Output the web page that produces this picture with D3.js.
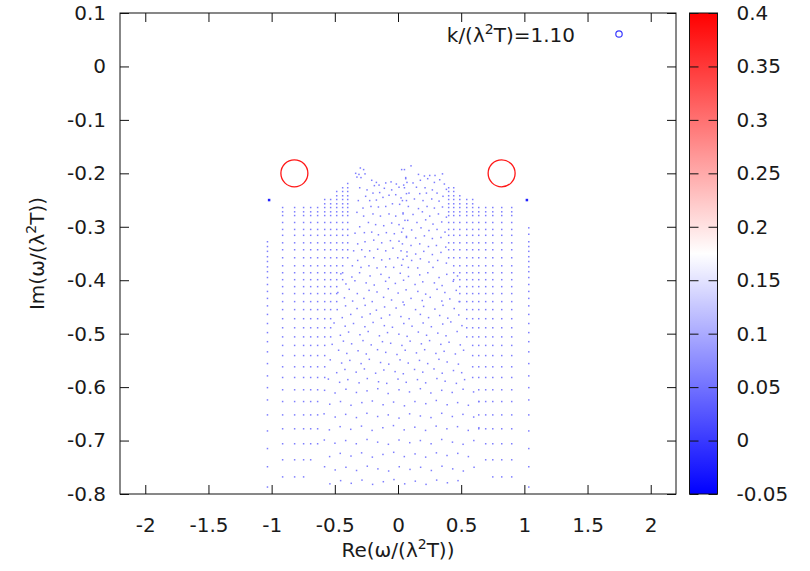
<!DOCTYPE html>
<html>
<head>
<meta charset="utf-8">
<script src="https://cdn.jsdelivr.net/npm/d3@7"></script>
<style>
  body { margin: 0; background: #fff; }
  text { font-family: "DejaVu Sans", sans-serif; fill: #1a1a1a; }
</style>
</head>
<body>
<svg id="chart" width="810" height="571"></svg>
<script>
// axis ticks
const xTicks = [-2, -1.5, -1, -0.5, 0, 0.5, 1, 1.5, 2];
const xTickLabels = ["-2", "-1.5", "-1", "-0.5", "0", "0.5", "1", "1.5", "2"];
const yTicks = [0.1, 0, -0.1, -0.2, -0.3, -0.4, -0.5, -0.6, -0.7, -0.8];
const yTickLabels = ["0.1", "0", "-0.1", "-0.2", "-0.3", "-0.4", "-0.5", "-0.6", "-0.7", "-0.8"];
const cbTicks = [-0.05, 0, 0.05, 0.1, 0.15, 0.2, 0.25, 0.3, 0.35, 0.4];
const cbTickLabels = ["-0.05", "0", "0.05", "0.1", "0.15", "0.2", "0.25", "0.3", "0.35", "0.4"];

// two unstable-looking modes (big red circles)
const modeRe = [-0.82, 0.82];
const modeIm = [-0.2, -0.2];
const modeVal = [0.38, 0.38];

// isolated darker dots
const isoRe = [-1.02, 1.02];
const isoIm = [-0.25, -0.25];

// outermost columns
const edgeRe = [-1.033, 1.035];
const edgeImLeft = [-0.328, -0.337, -0.346, -0.356, -0.365, -0.375, -0.384, -0.395, -0.408, -0.421, -0.434, -0.448,
  -0.464, -0.481, -0.498, -0.515, -0.534, -0.556, -0.579, -0.601, -0.624, -0.652, -0.682, -0.715, -0.749, -0.787];
const edgeImRight = [-0.302, -0.314, -0.328, -0.337, -0.346, -0.356, -0.365, -0.375, -0.384, -0.395, -0.408, -0.421,
  -0.434, -0.448, -0.464, -0.481, -0.498, -0.515, -0.534, -0.556, -0.579, -0.601, -0.624, -0.652, -0.682, -0.715, -0.749, -0.787];

// regular side columns: x position, first and last row
const colRe = [-0.913, -0.818, -0.747, -0.691, -0.636, -0.580, -0.533, -0.485, -0.438, -0.398,
  0.401, 0.441, 0.489, 0.544, 0.591, 0.639, 0.694, 0.750, 0.821, 0.900];
const colTop = [-0.264, -0.264, -0.264, -0.264, -0.264, -0.249, -0.249, -0.234, -0.227, -0.219,
  -0.227, -0.227, -0.242, -0.249, -0.249, -0.264, -0.264, -0.264, -0.264, -0.264];
const colBottom = [-0.768, -0.768, -0.768, -0.736, -0.706, -0.582, -0.506, -0.440, -0.399, -0.358,
  -0.358, -0.399, -0.440, -0.506, -0.582, -0.678, -0.736, -0.768, -0.768, -0.768];
const rowIm = [-0.219, -0.227, -0.234, -0.242, -0.249, -0.257, -0.264, -0.272, -0.279, -0.292, -0.305, -0.316,
  -0.330, -0.343, -0.358, -0.373, -0.386, -0.399, -0.412, -0.425, -0.440, -0.455, -0.472, -0.489, -0.506,
  -0.522, -0.541, -0.562, -0.582, -0.605, -0.627, -0.652, -0.678, -0.706, -0.736, -0.768];

// scattered central cloud [Re, Im]
const cloudTop = [
  [-0.298,-0.190],[-0.272,-0.193],[-0.335,-0.200],[-0.309,-0.202],[-0.261,-0.201],[-0.325,-0.207],[-0.293,-0.208],
  [-0.208,-0.213],[-0.171,-0.217],[-0.150,-0.222],[-0.187,-0.223],[-0.097,-0.218],[-0.055,-0.216],[-0.013,-0.220],
  [0.029,-0.193],[0.061,-0.208],[0.071,-0.217],[0.045,-0.222],[0.008,-0.226],[-0.108,-0.228],[-0.050,-0.231],
  [-0.303,-0.227],[-0.245,-0.231],[-0.198,-0.237],[-0.145,-0.236],[-0.256,-0.243],[-0.314,-0.251],[-0.224,-0.251],
  [-0.171,-0.250],[-0.119,-0.245],[-0.071,-0.241],[-0.018,-0.240],[0.024,-0.246],[0.067,-0.238],[0.067,-0.251],
  [0.013,-0.258],[-0.044,-0.257],[-0.097,-0.262],[-0.155,-0.263],[-0.214,-0.262],[-0.277,-0.265],[-0.325,-0.273],
  [-0.272,-0.280],[-0.198,-0.276],[-0.139,-0.280],[-0.071,-0.276],[-0.018,-0.280],[0.040,-0.274],[0.055,-0.288],
  [0.008,-0.296],[-0.050,-0.293],[-0.113,-0.298],[-0.177,-0.296],[-0.234,-0.292],[-0.303,-0.300],[-0.340,-0.312],
  [-0.266,-0.311],[-0.208,-0.310],[-0.155,-0.315],[-0.092,-0.311],[-0.029,-0.313],[0.029,-0.310],[0.067,-0.320],
  [0.008,-0.327],[-0.060,-0.326],[-0.129,-0.330],[-0.192,-0.325],[-0.261,-0.328],[-0.319,-0.332],[-0.351,-0.345],
  [-0.287,-0.343],[-0.224,-0.345],[-0.161,-0.342],[-0.097,-0.345],[-0.040,-0.340],[0.024,-0.345],[0.071,-0.355],
  [-0.002,-0.358],[-0.066,-0.360],[-0.129,-0.362],[-0.192,-0.358],[-0.261,-0.356],[-0.319,-0.363],[-0.361,-0.373],
  [-0.293,-0.376],[-0.230,-0.373],[-0.166,-0.377],[-0.097,-0.375],[-0.034,-0.376],[0.029,-0.372],
  [0.103,-0.186],[0.051,-0.193],[0.162,-0.202],[0.209,-0.205],[0.251,-0.204],[0.293,-0.204],[0.352,-0.201],
  [0.061,-0.210],[0.119,-0.218],[0.177,-0.213],[0.235,-0.210],[0.288,-0.217],[0.330,-0.212],[0.367,-0.220],
  [0.051,-0.227],[0.146,-0.226],[0.214,-0.227],[0.272,-0.231],[0.383,-0.230],[0.087,-0.237],[0.172,-0.238],
  [0.225,-0.237],[0.309,-0.237],[0.356,-0.243],[0.035,-0.251],[0.130,-0.248],[0.198,-0.251],[0.267,-0.248],
  [0.325,-0.252],[0.082,-0.262],[0.162,-0.266],[0.230,-0.262],[0.288,-0.265],[0.352,-0.263],[0.040,-0.276],
  [0.119,-0.277],[0.193,-0.272],[0.251,-0.280],[0.320,-0.276],[0.383,-0.282],[0.077,-0.288],[0.150,-0.292],
  [0.219,-0.287],[0.277,-0.295],[0.346,-0.291],[0.040,-0.303],[0.108,-0.306],[0.182,-0.302],[0.245,-0.307],
  [0.309,-0.305],[0.372,-0.310],[0.067,-0.318],[0.140,-0.321],[0.209,-0.317],[0.272,-0.322],[0.340,-0.320],
  [0.035,-0.332],[0.103,-0.335],[0.172,-0.332],[0.241,-0.337],[0.304,-0.335],[0.378,-0.338],[0.071,-0.347],
  [0.140,-0.351],[0.204,-0.346],[0.272,-0.352],[0.340,-0.348],[0.040,-0.361],[0.108,-0.363],[0.177,-0.360],
  [0.245,-0.366],[0.314,-0.363],[0.383,-0.368],[0.082,-0.376],[0.156,-0.377],[0.277,-0.376]
];
const cloudMid = [
  [-0.452,-0.388],[-0.365,-0.394],[-0.304,-0.386],[-0.221,-0.392],[-0.135,-0.389],[-0.070,-0.395],[0.018,-0.387],
  [0.083,-0.393],[0.172,-0.390],[0.236,-0.386],[0.325,-0.395],[0.386,-0.389],[0.471,-0.392],
  [-0.412,-0.407],[-0.341,-0.401],[-0.252,-0.405],[-0.188,-0.409],[-0.098,-0.402],[-0.021,-0.406],[0.044,-0.400],
  [0.135,-0.408],[0.196,-0.403],[0.288,-0.405],[0.349,-0.410],[0.437,-0.402],
  [-0.476,-0.423],[-0.386,-0.417],[-0.322,-0.425],[-0.229,-0.419],[-0.166,-0.422],[-0.077,-0.416],[0.001,-0.424],
  [0.064,-0.418],[0.157,-0.421],[0.219,-0.426],[0.309,-0.417],[0.371,-0.423],[0.461,-0.419],
  [-0.424,-0.433],[-0.359,-0.439],[-0.270,-0.434],[-0.204,-0.440],[-0.114,-0.432],[-0.051,-0.437],[0.040,-0.441],
  [0.103,-0.434],[0.192,-0.438],[0.255,-0.432],[0.347,-0.439],[0.410,-0.435],[0.484,-0.440],
  [-0.481,-0.455],[-0.415,-0.448],[-0.324,-0.453],[-0.260,-0.447],[-0.171,-0.456],[-0.106,-0.450],[-0.015,-0.452],
  [0.049,-0.446],[0.139,-0.455],[0.203,-0.449],[0.292,-0.454],[0.356,-0.447],[0.445,-0.453],
  [-0.441,-0.470],[-0.374,-0.464],[-0.285,-0.469],[-0.220,-0.463],[-0.132,-0.471],[-0.066,-0.465],[0.023,-0.468],
  [0.088,-0.472],[0.177,-0.464],[0.242,-0.470],[0.330,-0.466],[0.394,-0.471],[0.481,-0.465],
  [-0.506,-0.480],[-0.418,-0.486],[-0.352,-0.481],[-0.262,-0.487],[-0.197,-0.479],[-0.108,-0.485],[-0.044,-0.488],
  [0.046,-0.481],[0.111,-0.486],[0.199,-0.480],[0.264,-0.487],[0.354,-0.482],[0.418,-0.478],[0.506,-0.485],
  [-0.456,-0.503],[-0.391,-0.497],[-0.301,-0.502],[-0.236,-0.496],[-0.147,-0.504],[-0.083,-0.498],[0.007,-0.501],
  [0.072,-0.505],[0.161,-0.497],[0.226,-0.503],[0.315,-0.499],[0.380,-0.504],[0.468,-0.496],
  [-0.521,-0.520],[-0.432,-0.514],[-0.367,-0.519],[-0.277,-0.513],[-0.212,-0.521],[-0.123,-0.515],[-0.058,-0.518],
  [0.031,-0.522],[0.096,-0.514],[0.185,-0.519],[0.250,-0.513],[0.339,-0.520],[0.404,-0.516],[0.493,-0.521],
  [-0.470,-0.531],[-0.405,-0.537],[-0.316,-0.532],[-0.251,-0.538],[-0.162,-0.530],[-0.097,-0.535],[-0.008,-0.539],
  [0.057,-0.531],[0.146,-0.536],[0.211,-0.530],[0.300,-0.537],[0.365,-0.533],[0.454,-0.538],[0.519,-0.531],
  [-0.536,-0.549],[-0.446,-0.555],[-0.381,-0.550],[-0.292,-0.556],[-0.227,-0.548],[-0.138,-0.554],[-0.073,-0.557],
  [0.016,-0.549],[0.081,-0.555],[0.170,-0.550],[0.235,-0.556],[0.324,-0.548],[0.389,-0.553],[0.478,-0.557],
  [-0.485,-0.573],[-0.420,-0.567],[-0.331,-0.572],[-0.266,-0.566],[-0.177,-0.574],[-0.112,-0.568],[-0.023,-0.571],
  [0.042,-0.575],[0.131,-0.567],[0.196,-0.572],[0.285,-0.566],[0.350,-0.574],[0.439,-0.569],[0.504,-0.573],
  [-0.551,-0.585],[-0.462,-0.591],[-0.397,-0.586],[-0.308,-0.592],[-0.243,-0.584],[-0.154,-0.590],[-0.089,-0.593],
  [0.000,-0.585],[0.065,-0.591],[0.154,-0.586],[0.219,-0.592],[0.308,-0.584],[0.373,-0.589],[0.462,-0.593],[0.527,-0.586]
];
const cloudLow = [
  [-0.581,-0.606],[-0.498,-0.611],[-0.412,-0.604],[-0.329,-0.610],[-0.245,-0.607],[-0.160,-0.603],[-0.078,-0.612],
  [0.008,-0.605],[0.091,-0.609],[0.177,-0.603],[0.260,-0.611],[0.346,-0.606],[0.429,-0.610],[0.515,-0.604],[0.598,-0.609],
  [-0.540,-0.632],[-0.455,-0.627],[-0.372,-0.634],[-0.286,-0.629],[-0.203,-0.626],[-0.118,-0.633],[-0.035,-0.628],
  [0.051,-0.635],[0.134,-0.627],[0.220,-0.631],[0.303,-0.625],[0.389,-0.633],[0.472,-0.629],[0.557,-0.634],[0.640,-0.627],
  [-0.585,-0.650],[-0.497,-0.656],[-0.414,-0.651],[-0.329,-0.657],[-0.246,-0.649],[-0.161,-0.655],[-0.077,-0.652],
  [0.008,-0.658],[0.092,-0.650],[0.177,-0.654],[0.261,-0.657],[0.346,-0.649],[0.430,-0.655],[0.514,-0.651],[0.599,-0.656],
  [-0.543,-0.680],[-0.458,-0.674],[-0.374,-0.679],[-0.289,-0.673],[-0.205,-0.681],[-0.120,-0.676],[-0.036,-0.672],
  [0.049,-0.680],[0.133,-0.675],[0.218,-0.681],[0.302,-0.673],[0.387,-0.678],[0.471,-0.674],[0.556,-0.681],[0.640,-0.676],
  [-0.583,-0.699],[-0.499,-0.705],[-0.414,-0.700],[-0.330,-0.706],[-0.245,-0.698],[-0.161,-0.703],[-0.076,-0.707],
  [0.008,-0.699],[0.093,-0.704],[0.177,-0.700],[0.262,-0.706],[0.346,-0.698],[0.431,-0.703],[0.515,-0.707],[0.600,-0.700],
  [-0.541,-0.730],[-0.457,-0.724],[-0.372,-0.729],[-0.288,-0.723],[-0.203,-0.731],[-0.119,-0.726],[-0.034,-0.722],
  [0.050,-0.730],[0.135,-0.725],[0.219,-0.731],[0.304,-0.723],[0.388,-0.728],[0.473,-0.724],[0.557,-0.730],
  [-0.581,-0.749],[-0.497,-0.755],[-0.412,-0.750],[-0.328,-0.756],[-0.243,-0.748],[-0.159,-0.753],[-0.074,-0.757],
  [0.010,-0.749],[0.095,-0.754],[0.179,-0.750],[0.264,-0.756],[0.348,-0.748],[0.433,-0.753],[0.517,-0.757],[0.602,-0.750],
  [-0.539,-0.781],[-0.454,-0.775],[-0.370,-0.780],[-0.285,-0.774],[-0.201,-0.782],[-0.116,-0.777],[-0.032,-0.773],
  [0.053,-0.781],[0.137,-0.776],[0.222,-0.782],[0.306,-0.774],[0.391,-0.779],[0.475,-0.775]
];
const dotVal = 0.06;
const keyVal = 0.0;
const keyLabel = ["k/(λ", "2", "T)=1.10"];

// ---- layout
const svg = d3.select("#chart");
const plotL = 120, plotR = 676, plotT = 13, plotB = 494;
const x = d3.scaleLinear().domain([-2.2, 2.2]).range([plotL, plotR]);
const y = d3.scaleLinear().domain([-0.8, 0.1]).range([plotB, plotT]);
const cb = d3.scaleLinear().domain([-0.05, 0.4]).range([plotB, plotT]);
const color = d3.scaleLinear().domain([-0.05, 0.175, 0.4]).range(["#0000ff", "#ffffff", "#ff0000"]);

// gather all small dots
let dots = [];
edgeImLeft.forEach(v => dots.push([edgeRe[0], v]));
edgeImRight.forEach(v => dots.push([edgeRe[1], v]));
colRe.forEach((re, i) => {
  rowIm.filter(v => v <= colTop[i] + 1e-9 && v >= colBottom[i] - 1e-9).forEach(v => dots.push([re, v]));
});
dots = dots.concat(cloudTop, cloudMid, cloudLow);

const plot = svg.append("g");
plot.selectAll("rect.dot")
  .data(dots)
  .enter()
  .append("rect")
  .attr("class", "dot")
  .attr("x", d => x(d[0]) - 0.75)
  .attr("y", d => y(d[1]) - 0.75)
  .attr("width", 1.5)
  .attr("height", 1.5)
  .attr("fill", color(dotVal));

plot.selectAll("rect.iso")
  .data(isoRe)
  .enter()
  .append("rect")
  .attr("x", (d, i) => x(d) - 1.25)
  .attr("y", (d, i) => y(isoIm[i]) - 1.25)
  .attr("width", 2.5)
  .attr("height", 2.5)
  .attr("fill", color(-0.02));

plot.selectAll("circle.mode")
  .data(modeRe)
  .enter()
  .append("circle")
  .attr("cx", d => x(d))
  .attr("cy", (d, i) => y(modeIm[i]))
  .attr("r", 13.5)
  .attr("fill", "none")
  .attr("stroke", (d, i) => color(modeVal[i]))
  .attr("stroke-width", 1.3);

// ---- axes (gnuplot style: inward ticks, mirrored)
const fs = 20;
const ax = svg.append("g").attr("transform", `translate(0,${plotB})`)
  .call(d3.axisBottom(x).tickValues(xTicks).tickFormat((d, i) => xTickLabels[i]).tickSize(-9).tickPadding(24));
const axTop = svg.append("g").attr("transform", `translate(0,${plotT})`)
  .call(d3.axisTop(x).tickValues(xTicks).tickFormat("").tickSize(-9));
const ay = svg.append("g").attr("transform", `translate(${plotL},0)`)
  .call(d3.axisLeft(y).tickValues(yTicks).tickFormat((d, i) => yTickLabels[i]).tickSize(-9).tickPadding(14));
const ayR = svg.append("g").attr("transform", `translate(${plotR},0)`)
  .call(d3.axisRight(y).tickValues(yTicks).tickFormat("").tickSize(-9));
[ax, axTop, ay, ayR].forEach(g => {
  g.select(".domain").remove();
  g.selectAll("line").attr("stroke", "#111");
  g.selectAll("text").style("font-size", fs + "px").attr("fill", "#1a1a1a")
    .style("font-family", "'DejaVu Sans', sans-serif");
});

svg.append("rect")
  .attr("x", plotL).attr("y", plotT)
  .attr("width", plotR - plotL).attr("height", plotB - plotT)
  .attr("fill", "none").attr("stroke", "#111").attr("stroke-width", 1);

// axis titles
const xt = svg.append("text")
  .attr("x", (plotL + plotR) / 2).attr("y", 557)
  .attr("text-anchor", "middle").style("font-size", fs + "px");
xt.append("tspan").text("Re(ω/(λ");
xt.append("tspan").attr("dy", -8).style("font-size", "14px").text("2");
xt.append("tspan").attr("dy", 8).text("T))");

const yt = svg.append("text")
  .attr("transform", `translate(44,${(plotT + plotB) / 2}) rotate(-90)`)
  .attr("text-anchor", "middle").style("font-size", fs + "px");
yt.append("tspan").text("Im(ω/(λ");
yt.append("tspan").attr("dy", -8).style("font-size", "14px").text("2");
yt.append("tspan").attr("dy", 8).text("T))");

// key
const kt = svg.append("text")
  .attr("x", 575).attr("y", 42)
  .attr("text-anchor", "end").style("font-size", fs + "px");
kt.append("tspan").text(keyLabel[0]);
kt.append("tspan").attr("dy", -8).style("font-size", "14px").text(keyLabel[1]);
kt.append("tspan").attr("dy", 8).text(keyLabel[2]);
svg.append("circle")
  .attr("cx", 619).attr("cy", 34).attr("r", 3.2)
  .attr("fill", "none").attr("stroke", color(keyVal)).attr("stroke-width", 1.2);

// ---- colour box
const cbLeft = 689.5, cbRight = 717.5;
const defs = svg.append("defs");
const grad = defs.append("linearGradient").attr("id", "cbgrad")
  .attr("x1", 0).attr("y1", 1).attr("x2", 0).attr("y2", 0);
d3.range(0, 1.0001, 0.05).forEach(t => {
  grad.append("stop").attr("offset", t).attr("stop-color", color(-0.05 + t * 0.45));
});
svg.append("rect")
  .attr("x", cbLeft).attr("y", plotT)
  .attr("width", cbRight - cbLeft).attr("height", plotB - plotT)
  .attr("fill", "url(#cbgrad)").attr("stroke", "#111").attr("stroke-width", 1);

const cbAxis = svg.append("g").attr("transform", `translate(${cbRight},0)`)
  .call(d3.axisRight(cb).tickValues(cbTicks).tickFormat((d, i) => cbTickLabels[i]).tickSize(-9).tickPadding(19));
const cbAxisL = svg.append("g").attr("transform", `translate(${cbLeft},0)`)
  .call(d3.axisLeft(cb).tickValues(cbTicks).tickFormat("").tickSize(-9));
[cbAxis, cbAxisL].forEach(g => {
  g.select(".domain").remove();
  g.selectAll("line").attr("stroke", "#111");
  g.selectAll("text").style("font-size", fs + "px").attr("fill", "#1a1a1a")
    .style("font-family", "'DejaVu Sans', sans-serif");
});
</script>
</body>
</html>
